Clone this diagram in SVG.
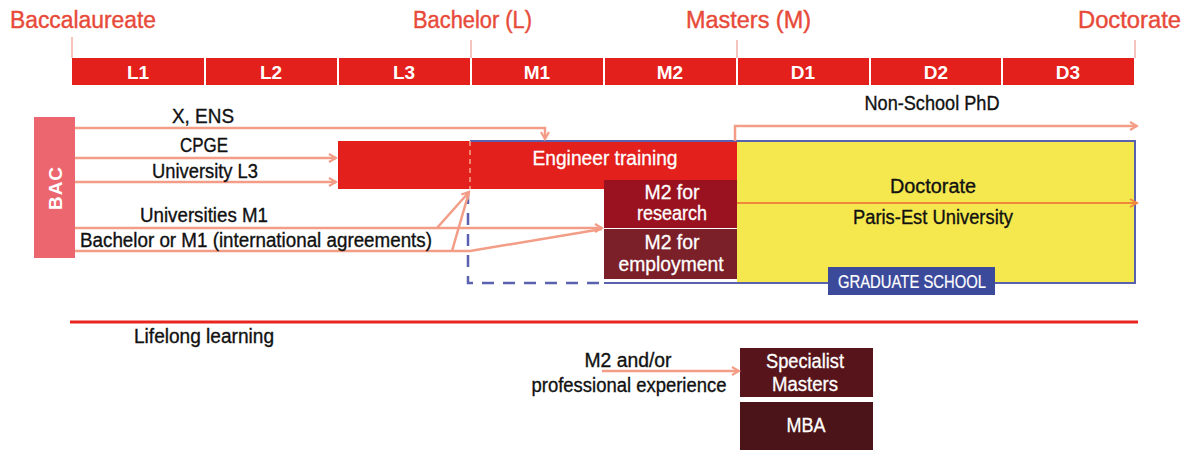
<svg xmlns="http://www.w3.org/2000/svg" width="1198" height="450" viewBox="0 0 1198 450">
<style>
.hdr{font-family:"Liberation Sans",Arial,sans-serif;font-size:23px;fill:#e84a3a;stroke:#e84a3a;stroke-width:0.4}
.bar{fill:#e3201b}
.barT{font-family:"Liberation Sans",Arial,sans-serif;font-size:19px;font-weight:bold;fill:#fff;text-anchor:middle}
.lbl{font-family:"Liberation Sans",Arial,sans-serif;font-size:20px;fill:#111;stroke:#111;stroke-width:0.35}
.wt{font-family:"Liberation Sans",Arial,sans-serif;font-size:20px;fill:#fff;stroke:#fff;stroke-width:0.3;text-anchor:middle}
.con{fill:none;stroke:#f39c86;stroke-width:2.5}
.tick{stroke:#f2b0a8;stroke-width:1.5}
</style>
<defs>
<marker id="ah" markerWidth="10" markerHeight="10" refX="8" refY="5" orient="auto" markerUnits="userSpaceOnUse">
<path d="M1,1 L8,5 L1,9" fill="none" stroke="#f39c86" stroke-width="2.2"/>
</marker>
<marker id="ahO" markerWidth="10" markerHeight="10" refX="8" refY="5" orient="auto" markerUnits="userSpaceOnUse">
<path d="M1,1 L8,5 L1,9" fill="none" stroke="#f0883c" stroke-width="2"/>
</marker>
</defs>

<g id="timeline">
<text class="hdr" x="10" y="28" textLength="146" lengthAdjust="spacingAndGlyphs">Baccalaureate</text>
<text class="hdr" x="413" y="28" textLength="119" lengthAdjust="spacingAndGlyphs">Bachelor (L)</text>
<text class="hdr" x="686" y="28" textLength="125" lengthAdjust="spacingAndGlyphs">Masters (M)</text>
<text class="hdr" x="1078" y="28" textLength="103" lengthAdjust="spacingAndGlyphs">Doctorate</text>
<line class="tick" x1="72" y1="37" x2="72" y2="58"/>
<line class="tick" x1="471" y1="40" x2="471" y2="58"/>
<line class="tick" x1="737" y1="40" x2="737" y2="58"/>
<line class="tick" x1="1135" y1="40" x2="1135" y2="58"/>
<rect class="bar" x="72" y="58" width="132" height="27"/>
<rect class="bar" x="206" y="58" width="131" height="27"/>
<rect class="bar" x="339" y="58" width="131" height="27"/>
<rect class="bar" x="472" y="58" width="131" height="27"/>
<rect class="bar" x="605" y="58" width="131" height="27"/>
<rect class="bar" x="738" y="58" width="131" height="27"/>
<rect class="bar" x="871" y="58" width="130" height="27"/>
<rect class="bar" x="1003" y="58" width="131" height="27"/>
<text class="barT" x="138" y="79">L1</text>
<text class="barT" x="271" y="79">L2</text>
<text class="barT" x="404" y="79">L3</text>
<text class="barT" x="537" y="79">M1</text>
<text class="barT" x="670" y="79">M2</text>
<text class="barT" x="803" y="79">D1</text>
<text class="barT" x="936" y="79">D2</text>
<text class="barT" x="1068" y="79">D3</text>
</g>

<g id="doctorate">
<rect x="737" y="141" width="398" height="142" fill="#f5e84f"/>
<text class="lbl" x="933" y="193" text-anchor="middle" textLength="86" lengthAdjust="spacingAndGlyphs">Doctorate</text>
<text class="lbl" x="933" y="224" text-anchor="middle" textLength="160" lengthAdjust="spacingAndGlyphs">Paris-Est University</text>
</g>

<g id="engineer">
<rect x="338" y="141" width="399" height="48" fill="#e3201b"/>
<text class="wt" x="605" y="165" textLength="145" lengthAdjust="spacingAndGlyphs">Engineer training</text>
</g>

<g id="m2research">
<rect x="604" y="180" width="133" height="48" fill="#9a1220"/>
<text class="wt" x="672" y="199" textLength="55" lengthAdjust="spacingAndGlyphs">M2 for</text>
<text class="wt" x="672" y="220" textLength="70" lengthAdjust="spacingAndGlyphs">research</text>
</g>

<g id="m2employment">
<rect x="604" y="229" width="133" height="50" fill="#7b1f29"/>
<text class="wt" x="672" y="249" textLength="55" lengthAdjust="spacingAndGlyphs">M2 for</text>
<text class="wt" x="671" y="271" textLength="105" lengthAdjust="spacingAndGlyphs">employment</text>
</g>

<g id="graduate">
<path d="M470,141 L1135,141 L1135,283 L604,283" fill="none" stroke="#5a62b0" stroke-width="2"/>
<path d="M468,192 L468,283 L604,283" fill="none" stroke="#5a62b0" stroke-width="2.5" stroke-dasharray="12,9"/>
<rect x="828" y="267" width="167" height="28" fill="#3c4a9c"/>
<text x="912" y="288" font-family="'Liberation Sans',Arial,sans-serif" font-size="18" fill="#fff" stroke="#fff" stroke-width="0.2" text-anchor="middle" textLength="148" lengthAdjust="spacingAndGlyphs">GRADUATE SCHOOL</text>
</g>

<g id="bac">
<rect x="34" y="117" width="41" height="141" fill="#ec6670"/>
<text x="55" y="188" transform="rotate(-90 55 188)" font-family="'Liberation Sans',Arial,sans-serif" font-size="19" font-weight="bold" fill="#fff" text-anchor="middle" dominant-baseline="central" letter-spacing="1">BAC</text>
</g>

<g id="specialist">
<rect x="740" y="348" width="133" height="49" fill="#57151b"/>
<text class="wt" x="805" y="368" textLength="78" lengthAdjust="spacingAndGlyphs">Specialist</text>
<text class="wt" x="805" y="391" textLength="66" lengthAdjust="spacingAndGlyphs">Masters</text>
</g>

<g id="mba">
<rect x="740" y="402" width="133" height="48" fill="#4a1418"/>
<text class="wt" x="806" y="432" textLength="39" lengthAdjust="spacingAndGlyphs">MBA</text>
</g>

<g id="connectors">
<line x1="470" y1="141" x2="470" y2="189" stroke="#f5a58e" stroke-width="1.5" stroke-dasharray="5,4"/>
<path class="con" d="M75,128 L545,128 L545,139" marker-end="url(#ah)"/>
<path class="con" d="M75,158 L336,158" marker-end="url(#ah)"/>
<path class="con" d="M75,182 L336,182" marker-end="url(#ah)"/>
<path class="con" d="M75,228 L602,228" marker-end="url(#ah)"/>
<path class="con" d="M75,251 L470,251 L602,229"/>
<path class="con" d="M437,228 L469,192" marker-end="url(#ah)"/>
<path class="con" d="M452,251 L469,192"/>
<path class="con" d="M735,141 L735,126 L1137,126" marker-end="url(#ah)"/>
<path d="M737,203 L1137,203" fill="none" stroke="#f0883c" stroke-width="2" marker-end="url(#ahO)"/>
<line x1="70" y1="322" x2="1138" y2="322" stroke="#e8261f" stroke-width="3"/>
<path class="con" d="M602,371 L739,371" marker-end="url(#ah)"/>
</g>

<g id="labels">
<text class="lbl" x="203" y="123" text-anchor="middle" textLength="62" lengthAdjust="spacingAndGlyphs">X, ENS</text>
<text class="lbl" x="204" y="152" text-anchor="middle" textLength="48" lengthAdjust="spacingAndGlyphs">CPGE</text>
<text class="lbl" x="205" y="178" text-anchor="middle" textLength="106" lengthAdjust="spacingAndGlyphs">University L3</text>
<text class="lbl" x="204" y="222" text-anchor="middle" textLength="128" lengthAdjust="spacingAndGlyphs">Universities M1</text>
<text class="lbl" x="80" y="247" textLength="352" lengthAdjust="spacingAndGlyphs">Bachelor or M1 (international agreements)</text>
<text class="lbl" x="932" y="110" text-anchor="middle" textLength="135" lengthAdjust="spacingAndGlyphs">Non-School PhD</text>
<text class="lbl" x="204" y="343" text-anchor="middle" textLength="140" lengthAdjust="spacingAndGlyphs">Lifelong learning</text>
<text class="lbl" x="628" y="367" text-anchor="middle" textLength="87" lengthAdjust="spacingAndGlyphs">M2 and/or</text>
<text class="lbl" x="629" y="392" text-anchor="middle" textLength="195" lengthAdjust="spacingAndGlyphs">professional experience</text>
</g>
</svg>
